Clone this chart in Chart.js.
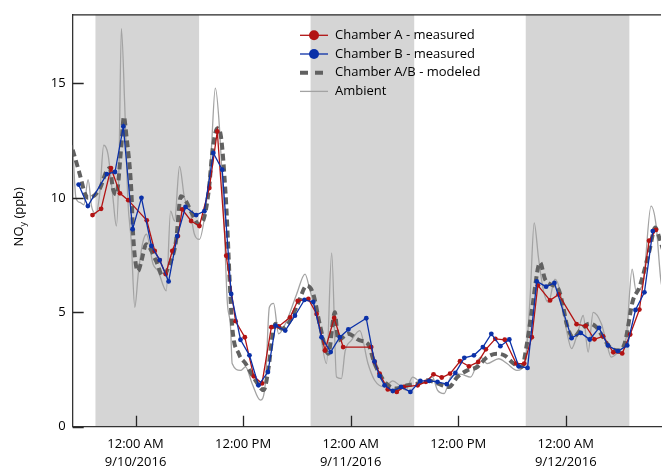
<!DOCTYPE html>
<html>
<head>
<meta charset="utf-8">
<script src="https://cdn.jsdelivr.net/npm/chart.js@4.4.1/dist/chart.umd.min.js"></script>
<style>
  html, body { margin: 0; padding: 0; background: #fff; }
</style>
</head>
<body>
<canvas id="myChart" width="665" height="470"></canvas>
<script>
// Horas contadas a partir de 9/10/2016 00:00
const chamberAHours = [-4.80, -3.84, -2.74, -1.74, -0.81, 1.25, 2.14, 2.69, 3.36, 4.10,
  4.73, 5.21, 6.20, 7.12, 8.23, 9.12, 10.12, 11.16, 12.19, 13.19,
  14.11, 15.15, 15.96, 17.25, 18.09, 19.28, 20.20, 21.13, 22.16, 23.16,
  26.29, 26.67, 27.22, 28.14, 29.14, 29.92, 31.47, 32.39, 33.24, 34.16,
  35.09, 36.20, 37.20, 38.23, 39.08, 40.14, 41.19, 42.47, 43.36, 44.21,
  44.88, 46.24, 47.20, 49.20, 50.23, 51.19, 52.16, 53.30, 54.29, 55.18,
  56.21, 57.29, 58.06];
const chamberAValues = [9.25, 9.52, 11.3, 10.2, 9.9, 9.02, 7.68, 7.28, 6.67, 7.68,
  8.33, 9.5, 8.99, 8.77, 10.43, 12.9, 7.47, 4.61, 3.91, 2.2,
  1.89, 4.35, 4.38, 4.78, 5.5, 5.58, 4.93, 3.33, 4.75, 3.48,
  3.48, 2.83, 2.32, 1.63, 1.52, 1.74, 1.81, 1.96, 2.29, 2.15,
  2.32, 2.86, 2.64, 2.83, 3.38, 3.84, 3.8, 2.76, 2.76, 3.91,
  6.18, 5.52, 5.78, 4.48, 4.4, 3.82, 3.95, 3.25, 3.2, 4.03,
  5.12, 8.13, 8.6];

const chamberBHours = [-6.35, -5.32, -3.21, -2.29, -1.36, -0.33, 0.66, 1.77, 2.69, 3.69,
  4.65, 5.57, 6.76, 7.68, 8.68, 9.67, 10.67, 11.71, 12.71, 13.71,
  14.77, 15.62, 16.70, 17.78, 18.84, 19.83, 20.75, 21.77, 22.79, 23.74,
  25.74, 26.65, 27.22, 27.78, 28.70, 29.62, 30.66, 31.77, 32.77, 33.68,
  34.72, 35.68, 36.68, 37.75, 38.75, 39.69, 40.70, 41.70, 42.74, 43.73,
  44.76, 45.80, 46.73, 48.64, 49.67, 50.67, 51.71, 52.70, 53.81, 54.85,
  55.77, 56.77, 57.70];
const chamberBValues = [10.58, 9.64, 11.04, 11.13, 13.12, 8.63, 10.0, 7.9, 7.28, 6.35,
  8.33, 9.6, 9.25, 9.42, 11.96, 11.23, 5.8, 3.8, 3.12, 1.81,
  2.39, 4.42, 4.2, 4.85, 5.54, 5.45, 3.91, 3.26, 3.91, 4.25,
  4.74, 2.85, 2.22, 1.81, 1.56, 1.74, 1.52, 2.0, 2.0, 1.96,
  1.86, 2.35, 3.01, 3.12, 3.48, 4.06, 3.52, 3.81, 2.64, 2.57,
  6.35, 6.12, 6.28, 3.87, 4.1, 3.81, 4.32, 3.55, 3.3, 3.55,
  5.1, 5.87, 8.55];

const modeledHours = [-7.01, -6.20, -5.65, -5.29, -3.99, -3.25, -2.88, -2.52, -2.14, -1.58,
  -1.30, -1.03, -0.48, -0.25, 0.28, 0.66, 1.19, 2.29, 3.02, 3.96,
  4.51, 5.06, 5.62, 6.32, 7.09, 7.65, 8.20, 8.57, 9.12, 9.50,
  10.05, 10.78, 11.52, 12.27, 13.37, 14.29, 14.85, 15.21, 15.59, 16.32,
  17.25, 18.17, 19.09, 19.83, 20.58, 21.50, 22.24, 22.60, 23.71, 25.01,
  25.93, 26.67, 27.22, 27.96, 29.06, 30.36, 31.47, 32.58, 33.68, 34.98,
  35.90, 37.01, 38.12, 39.22, 40.33, 41.22, 42.18, 43.10, 43.66, 44.21,
  45.13, 45.68, 46.43, 47.17, 47.72, 48.09, 48.83, 49.75, 50.67, 51.41,
  52.16, 52.89, 53.82, 54.55, 55.48, 56.21, 57.32, 57.98, 58.43, 58.95];
const modeledValues = [12.1, 11.0, 10.2, 10.0, 10.4, 11.16, 11.3, 10.4, 10.15, 12.3,
  13.55, 12.75, 10.4, 8.26, 6.8, 7.25, 7.97, 7.25, 6.6, 7.25,
  8.1, 10.07, 9.86, 9.3, 8.84, 9.13, 10.43, 12.0, 13.04, 12.75,
  10.15, 4.42, 3.19, 2.76, 2.03, 1.6, 2.6, 3.77, 4.5, 4.28,
  4.64, 5.43, 6.16, 5.8, 4.42, 3.19, 5.0, 3.77, 4.06, 3.77,
  3.62, 2.76, 2.32, 1.89, 1.67, 1.81, 1.89, 2.03, 1.89, 1.74,
  2.17, 2.46, 2.61, 3.04, 3.19, 3.1, 2.76, 2.61, 3.62, 5.07,
  7.17, 6.45, 6.2, 6.02, 5.22, 4.5, 3.91, 4.28, 4.5, 4.35,
  3.91, 3.48, 3.33, 3.62, 5.51, 6.09, 7.68, 8.7, 8.26, 7.6];

const ambientHours = [-7.01, -6.65, -6.20, -5.76, -5.29, -4.91, -4.43, -3.99, -3.55, -3.07,
  -2.52, -2.14, -1.85, -1.58, -1.22, -0.85, -0.48, -0.08, 0.30, 0.78,
  1.22, 1.96, 2.52, 3.43, 3.91, 4.35, 4.91, 5.46, 6.02, 6.57,
  7.12, 7.68, 8.42, 8.90, 9.34, 9.86, 10.23, 10.60, 10.78, 11.71,
  12.27, 13.00, 13.93, 14.48, 14.93, 15.40, 15.96, 16.88, 17.98, 18.91,
  19.47, 20.39, 21.31, 21.88, 22.42, 22.97, 23.38, 24.08, 25.01, 25.93,
  26.67, 27.78, 28.70, 29.44, 30.14, 30.91, 32.02, 33.13, 33.68, 34.43,
  35.16, 36.23, 37.37, 38.48, 39.22, 40.52, 41.44, 42.55, 43.47, 44.02,
  44.47, 44.95, 45.51, 46.06, 46.79, 47.35, 48.09, 48.64, 49.39, 49.94,
  50.49, 51.05, 51.97, 52.52, 53.07, 53.99, 54.74, 55.40, 55.84, 56.62,
  57.51, 58.06, 58.61, 58.95];
const ambientValues = [12.3, 10.0, 9.8, 9.7, 10.8, 9.64, 9.3, 10.2, 12.3, 11.9,
  10.0, 8.77, 11.3, 17.4, 14.2, 9.86, 8.12, 5.22, 6.67, 8.0,
  8.41, 7.1, 6.8, 5.94, 9.42, 8.99, 11.38, 10.0, 9.57, 8.41,
  8.19, 9.13, 11.9, 14.8, 13.2, 9.13, 5.5, 4.35, 2.76, 2.46,
  2.61, 1.89, 1.16, 1.89, 5.22, 5.39, 4.06, 4.64, 5.8, 6.67,
  5.94, 4.64, 2.76, 7.6, 2.17, 2.1, 3.3, 3.77, 4.2, 2.76,
  2.03, 1.74, 2.0, 1.81, 1.6, 2.17, 1.9, 2.17, 1.6, 1.45,
  2.17, 2.3, 2.17, 3.04, 2.76, 2.97, 2.76, 2.46, 2.9, 5.65,
  8.91, 7.39, 5.94, 5.43, 6.45, 5.94, 4.2, 3.41, 4.2, 4.86,
  3.26, 5.0, 4.5, 3.7, 3.04, 3.33, 3.91, 6.89, 5.94, 6.3,
  9.64, 8.84, 6.38, 5.8];

// Noites (faixas cinza), em horas
const nightStart = [-4.47, 19.53, 43.53];
const nightEnd = [7.09, 31.09, 55.09];

// Eixos
const xTickHours = [0, 12, 24, 36, 48];
const xTickTimes = ['12:00 AM', '12:00 PM', '12:00 AM', '12:00 PM', '12:00 AM'];
const xTickDates = ['9/10/2016', '', '9/11/2016', '', '9/12/2016'];
const yTicks = [0, 5, 10, 15];
const seriesLabels = ['Chamber A - measured', 'Chamber B - measured', 'Chamber A/B - modeled', 'Ambient'];

const FONT = "'Open Sans', 'DejaVu Sans', sans-serif";

function toPoints(hours, values) {
  return hours.map((h, i) => ({ x: h, y: values[i] }));
}

const data = {
  datasets: [{
    label: seriesLabels[0],
    data: toPoints(chamberAHours, chamberAValues),
    borderColor: '#b21313',
    backgroundColor: '#b21313',
    borderWidth: 1.3,
    pointRadius: 2.4,
    pointBorderWidth: 0,
    order: 1
  }, {
    label: seriesLabels[1],
    data: toPoints(chamberBHours, chamberBValues),
    borderColor: '#0b31a8',
    backgroundColor: '#0b31a8',
    borderWidth: 1.3,
    pointRadius: 2.4,
    pointBorderWidth: 0,
    order: 0
  }, {
    label: seriesLabels[2],
    data: toPoints(modeledHours, modeledValues),
    borderColor: '#616161',
    borderWidth: 4,
    borderDash: [7, 4],
    pointRadius: 0,
    cubicInterpolationMode: 'monotone',
    order: 2
  }, {
    label: seriesLabels[3],
    data: toPoints(ambientHours, ambientValues),
    borderColor: '#a3a3a3',
    borderWidth: 1.3,
    pointRadius: 0,
    cubicInterpolationMode: 'monotone',
    order: 3
  }]
};

// faixas de noite, ticks internos, legenda e título do eixo y
const decorPlugin = {
  id: 'decor',
  beforeDraw(chart) {
    const { ctx, chartArea: a, scales: { x } } = chart;
    ctx.save();
    ctx.fillStyle = '#d5d5d5';
    nightStart.forEach((s, i) => {
      const x0 = Math.max(x.getPixelForValue(s), a.left);
      const x1 = Math.min(x.getPixelForValue(nightEnd[i]), a.right);
      ctx.fillRect(x0, a.top, x1 - x0, a.bottom - a.top);
    });
    ctx.restore();
  },
  afterDraw(chart) {
    const { ctx, chartArea: a, scales: { x, y } } = chart;
    ctx.save();
    ctx.strokeStyle = '#262626';
    ctx.lineWidth = 1.3;
    // linha de cima
    ctx.beginPath();
    ctx.moveTo(a.left, a.top);
    ctx.lineTo(a.right, a.top);
    ctx.stroke();
    // ticks para dentro
    ctx.beginPath();
    xTickHours.forEach(h => {
      const px = Math.round(x.getPixelForValue(h)) + 0.5;
      ctx.moveTo(px, a.bottom);
      ctx.lineTo(px, a.bottom - 11);
    });
    yTicks.forEach(v => {
      const py = Math.round(y.getPixelForValue(v)) + 0.5;
      ctx.moveTo(a.left, py);
      ctx.lineTo(a.left + 11, py);
    });
    ctx.stroke();

    // legenda
    ctx.font = '13px ' + FONT;
    ctx.textBaseline = 'middle';
    chart.data.datasets.forEach((ds, i) => {
      const ly = a.top + 20.5 + i * 18.7;
      const lx = 300;
      ctx.save();
      ctx.strokeStyle = ds.borderColor;
      ctx.lineWidth = ds.borderWidth;
      ctx.setLineDash(ds.borderDash ? [8, 7] : []);
      ctx.beginPath();
      ctx.moveTo(lx, ly);
      ctx.lineTo(lx + 28, ly);
      ctx.stroke();
      if (ds.pointRadius > 0) {
        ctx.fillStyle = ds.backgroundColor;
        ctx.beginPath();
        ctx.arc(lx + 14, ly, 5, 0, Math.PI * 2);
        ctx.fill();
      }
      ctx.restore();
      ctx.fillStyle = '#000';
      ctx.fillText(ds.label, lx + 35, ly);
    });

    // título do eixo y: NO com y subscrito
    ctx.translate(19, (a.top + a.bottom) / 2 - 4);
    ctx.rotate(-Math.PI / 2);
    ctx.fillStyle = '#000';
    const big = '13px ' + FONT, small = '9px ' + FONT;
    ctx.font = big;
    const w1 = ctx.measureText('NO').width;
    const w3 = ctx.measureText(' (ppb)').width;
    ctx.font = small;
    const w2 = ctx.measureText('y').width;
    let sx = -(w1 + w2 + w3) / 2;
    ctx.font = big;
    ctx.fillText('NO', sx, 0);
    ctx.font = small;
    ctx.fillText('y', sx + w1, 4);
    ctx.font = big;
    ctx.fillText(' (ppb)', sx + w1 + w2, 0);
    ctx.restore();
  }
};

const options = {
  responsive: false,
  animation: false,
  layout: { padding: { top: 12.7, right: 0, left: 0, bottom: 0 } },
  plugins: { legend: { display: false }, tooltip: { enabled: false } },
  scales: {
    x: {
      type: 'linear',
      min: -7.01,
      max: 58.62,
      afterBuildTicks: s => { s.ticks = xTickHours.map(v => ({ value: v })); },
      afterFit: s => { s.height = 43.3; },
      grid: { display: false, drawTicks: false },
      border: { display: true, color: '#333', width: 1.3 },
      ticks: {
        autoSkip: false,
        maxRotation: 0,
        padding: 8,
        color: '#000',
        font: { family: FONT, size: 13, lineHeight: 1.4 },
        callback: v => {
          const i = xTickHours.indexOf(v);
          return xTickDates[i] ? [xTickTimes[i], xTickDates[i]] : xTickTimes[i];
        }
      }
    },
    y: {
      min: 0,
      max: 18,
      afterBuildTicks: s => { s.ticks = yTicks.map(v => ({ value: v })); },
      afterFit: s => { s.width = 72.7; },
      grid: { display: false, drawTicks: false },
      border: { display: true, color: '#333', width: 1.3 },
      ticks: {
        padding: 7,
        color: '#000',
        font: { family: FONT, size: 13 }
      }
    }
  }
};

const ctx = document.getElementById('myChart').getContext('2d');
const myChart = new Chart(ctx, {
  type: 'line',
  data: data,
  options: options,
  plugins: [decorPlugin]
});
</script>
</body>
</html>
